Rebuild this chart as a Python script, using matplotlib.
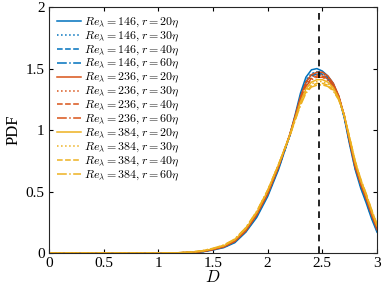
import matplotlib
matplotlib.use("Agg")
import matplotlib.pyplot as plt

plt.rcParams["font.family"] = "serif"
plt.rcParams["font.serif"] = ["Liberation Serif", "DejaVu Serif"]
plt.rcParams["mathtext.fontset"] = "cm"

# sample points of D
D = [0, 1.0, 1.1, 1.2, 1.3, 1.4, 1.5, 1.6, 1.7, 1.8, 1.9, 2.0, 2.1, 2.2, 2.25,
     2.3, 2.35, 2.4, 2.45, 2.5, 2.55, 2.6, 2.65, 2.7, 2.75, 2.8, 2.85, 2.9, 2.95, 3.0]

# Re_lambda = 146
pdf_146_20 = [0, 0, 0.001, 0.002, 0.004, 0.010, 0.025, 0.045, 0.085, 0.170, 0.290, 0.460, 0.680, 0.950, 1.120,
              1.300, 1.430, 1.490, 1.500, 1.480, 1.440, 1.380, 1.270, 1.100, 0.880, 0.680, 0.530, 0.410, 0.280, 0.170]
pdf_146_30 = [0, 0, 0.001, 0.002, 0.005, 0.011, 0.027, 0.048, 0.090, 0.175, 0.300, 0.470, 0.690, 0.950, 1.110,
              1.280, 1.410, 1.460, 1.475, 1.465, 1.430, 1.370, 1.270, 1.110, 0.890, 0.690, 0.540, 0.420, 0.290, 0.180]
pdf_146_40 = [0, 0, 0.001, 0.002, 0.005, 0.012, 0.028, 0.050, 0.093, 0.178, 0.305, 0.475, 0.695, 0.950, 1.105,
              1.270, 1.395, 1.450, 1.465, 1.455, 1.425, 1.365, 1.265, 1.110, 0.900, 0.700, 0.550, 0.430, 0.300, 0.185]
pdf_146_60 = [0, 0, 0.001, 0.003, 0.006, 0.013, 0.030, 0.053, 0.097, 0.183, 0.312, 0.482, 0.700, 0.950, 1.100,
              1.260, 1.385, 1.440, 1.455, 1.445, 1.415, 1.360, 1.265, 1.115, 0.910, 0.710, 0.560, 0.440, 0.310, 0.190]

# Re_lambda = 236
pdf_236_20 = [0, 0, 0.001, 0.002, 0.005, 0.012, 0.028, 0.050, 0.095, 0.180, 0.310, 0.480, 0.700, 0.960, 1.110,
              1.270, 1.390, 1.450, 1.470, 1.470, 1.440, 1.380, 1.280, 1.120, 0.900, 0.700, 0.560, 0.440, 0.310, 0.190]
pdf_236_30 = [0, 0, 0.001, 0.003, 0.006, 0.013, 0.030, 0.053, 0.098, 0.185, 0.315, 0.485, 0.705, 0.955, 1.105,
              1.260, 1.375, 1.430, 1.450, 1.450, 1.425, 1.370, 1.275, 1.120, 0.910, 0.710, 0.565, 0.450, 0.320, 0.200]
pdf_236_40 = [0, 0, 0.001, 0.003, 0.006, 0.014, 0.031, 0.055, 0.100, 0.188, 0.318, 0.490, 0.708, 0.955, 1.100,
              1.250, 1.365, 1.420, 1.440, 1.440, 1.415, 1.365, 1.270, 1.120, 0.915, 0.720, 0.575, 0.455, 0.325, 0.205]
pdf_236_60 = [0, 0, 0.001, 0.003, 0.007, 0.015, 0.033, 0.057, 0.103, 0.192, 0.322, 0.495, 0.710, 0.950, 1.095,
              1.240, 1.355, 1.410, 1.430, 1.430, 1.405, 1.355, 1.265, 1.120, 0.920, 0.725, 0.580, 0.460, 0.330, 0.210]

# Re_lambda = 384
pdf_384_20 = [0, 0, 0.001, 0.003, 0.007, 0.016, 0.035, 0.060, 0.108, 0.198, 0.330, 0.505, 0.720, 0.955, 1.090,
              1.230, 1.335, 1.390, 1.410, 1.410, 1.390, 1.345, 1.260, 1.120, 0.925, 0.735, 0.590, 0.470, 0.340, 0.220]
pdf_384_30 = [0, 0, 0.001, 0.003, 0.008, 0.017, 0.036, 0.062, 0.110, 0.201, 0.334, 0.508, 0.720, 0.950, 1.085,
              1.220, 1.320, 1.375, 1.395, 1.395, 1.375, 1.335, 1.255, 1.120, 0.930, 0.740, 0.595, 0.475, 0.345, 0.225]
pdf_384_40 = [0, 0, 0.001, 0.003, 0.008, 0.018, 0.037, 0.064, 0.112, 0.204, 0.337, 0.510, 0.722, 0.948, 1.080,
              1.210, 1.310, 1.360, 1.380, 1.380, 1.365, 1.325, 1.250, 1.120, 0.935, 0.745, 0.600, 0.480, 0.350, 0.230]
pdf_384_60 = [0, 0, 0.001, 0.004, 0.009, 0.019, 0.039, 0.066, 0.115, 0.207, 0.340, 0.512, 0.722, 0.945, 1.075,
              1.200, 1.300, 1.350, 1.365, 1.368, 1.355, 1.318, 1.245, 1.120, 0.940, 0.750, 0.605, 0.485, 0.355, 0.235]

reynolds = [146, 236, 384]
separations = [20, 30, 40, 60]
series = {
    146: [pdf_146_20, pdf_146_30, pdf_146_40, pdf_146_60],
    236: [pdf_236_20, pdf_236_30, pdf_236_40, pdf_236_60],
    384: [pdf_384_20, pdf_384_30, pdf_384_40, pdf_384_60],
}
colors = {146: "#0072BD", 236: "#D95319", 384: "#EDB120"}
styles = ["-", ":", "--", "-."]
D_mean = 2.47

fig = plt.figure(figsize=(3.82, 2.95), dpi=100)
ax = fig.add_axes([0.128, 0.142, 0.859, 0.834])

for re in reynolds:
    for r, ls, pdf in zip(separations, styles, series[re]):
        ax.plot(D, pdf, color=colors[re], linestyle=ls, linewidth=1.1,
                label=rf"$Re_\lambda = {re}, r = {r}\eta$")

ax.axvline(D_mean, color="black", linestyle="--", linewidth=1.2, dashes=(4, 3))

ax.set_xlim(0, 3)
ax.set_ylim(0, 2)
ax.set_xticks([0, 0.5, 1, 1.5, 2, 2.5, 3])
ax.set_xticklabels(["0", "0.5", "1", "1.5", "2", "2.5", "3"])
ax.set_yticks([0, 0.5, 1, 1.5, 2])
ax.set_yticklabels(["0", "0.5", "1", "1.5", "2"])
ax.tick_params(direction="in", top=True, right=True, length=3, width=0.8, labelsize=11, pad=3)
for s in ax.spines.values():
    s.set_linewidth(0.8)
    s.set_color("#262626")

ax.set_xlabel(r"$D$", fontsize=12, labelpad=0)
ax.set_ylabel("PDF", fontsize=12, labelpad=3)

ax.legend(loc="upper left", frameon=False, fontsize=8.6, handlelength=2.0,
          handletextpad=0.25, labelspacing=-0.03, borderaxespad=0.4,
          borderpad=0.3, bbox_to_anchor=(0.0, 1.0))

fig.savefig("out.png", dpi=100)
